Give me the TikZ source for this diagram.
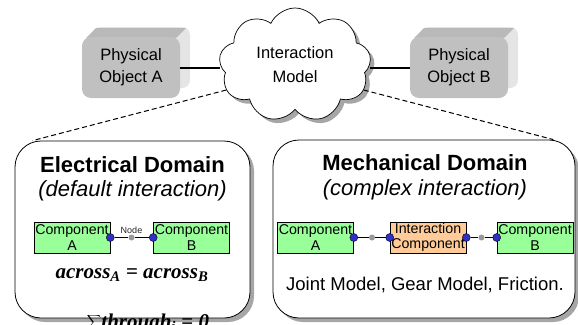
\documentclass[tikz,border=0pt]{standalone}
\usepackage{fontspec}
\setmainfont{Liberation Sans}
\newfontfamily\eqfont{Liberation Serif}
\usetikzlibrary{positioning,shapes.symbols,shadows}
\definecolor{compgreen}{HTML}{99FF99}
\definecolor{comporange}{HTML}{FFCC99}
\definecolor{portblue}{HTML}{3030C8}
\definecolor{objgray}{HTML}{C0C0C0}

\begin{document}
\begin{tikzpicture}[x=1pt,y=-1pt,
    boxshadow/.style={drop shadow={shadow xshift=4pt,shadow yshift=-4pt,fill=gray!70,opacity=1}},
    domainbox/.style={draw,line width=0.8pt,rounded corners=26pt,fill=white,boxshadow},
    comp/.style={draw,line width=0.6pt,fill=compgreen,minimum width=76pt,minimum height=31pt,
      inner sep=0pt,align=center,font=\fontsize{14.2}{15.5}\selectfont},
    port/.style={circle,draw=black,fill=portblue,line width=0.4pt,minimum size=8pt,inner sep=0pt},
    junc/.style={circle,fill=gray!80,minimum size=6pt,inner sep=0pt},
    physobj/.style={rounded corners=9pt,fill=objgray,minimum width=98pt,minimum height=61pt,
      align=center,font=\fontsize{16.5}{22}\selectfont},
    domtitle/.style={font=\fontsize{22}{26}\selectfont\bfseries},
    domsub/.style={font=\fontsize{22}{26}\selectfont\itshape},
    eqtext/.style={font=\fontsize{21}{21}\selectfont\eqfont\bfseries\itshape}]
    \useasboundingbox (0,0) rectangle (578,324);

    \fill[gray!20,rounded corners=8pt] (92,27) rectangle (190,88);
    \fill[gray!55] (86,38) -- (96,28) -- (186,28) -- (176,38) -- cycle;
    \node[physobj] (objA) at (131,67.5) {Physical\\Object A};
    \fill[gray!20,rounded corners=8pt] (420,27) rectangle (518,88);
    \fill[gray!55] (414,38) -- (424,28) -- (514,28) -- (504,38) -- cycle;
    \node[physobj] (objB) at (459,67.5) {Physical\\Object B};

    \node[cloud,cloud puffs=9,cloud puff arc=130,cloud ignores aspect,draw,line width=0.7pt,
      fill=white,minimum width=152pt,minimum height=114pt,align=center,
      font=\fontsize{16.5}{24}\selectfont,boxshadow] (cloud) at (295,65) {Interaction\\Model};
    \draw[line width=2pt] (objA.east) -- (objA.east -| cloud.west);
    \draw[line width=2pt] (objB.west) -- (objB.west -| cloud.east);

    \node[domainbox,minimum width=235pt,minimum height=177pt] (elec) at (132.5,229.5) {};
    \node[domainbox,minimum width=302pt,minimum height=178pt] (mech) at (424,229) {};
    \draw[dash pattern=on 5pt off 3pt,line width=1pt] (cloud.200) -- ([xshift=18pt]elec.north west);
    \draw[dash pattern=on 5pt off 3pt,line width=1pt] (cloud.340) -- ([xshift=-22pt]mech.north east);

    \node[domtitle] (elecT) at (132.5,165) {Electrical Domain};
    \node[domsub] (elecS) at (132.5,191) {(default interaction)};
    \node[comp] (cA) at (72,237.5) {Component\\A};
    \node[comp] (cB) at (191.5,237.5) {Component\\B};
    \node[port] (pA) at (cA.east) {};
    \node[port] (pB) at (cB.west) {};
    \node[junc,label={[font=\fontsize{9}{9}\selectfont,text=gray!30!black,inner sep=1pt]above:Node}] (nd) at (131.5,237.5) {};
    \draw[line width=0.6pt] (pA) -- (nd) -- (pB);
    \node[eqtext] (eqA) at (132,275) {across\textsubscript{A} {\upshape =} across\textsubscript{B}};
    \node[eqtext,anchor=base] (eqS) at (148,328) {$\displaystyle\sum$through\textsubscript{i} {\upshape =} 0};

    \node[domtitle] (mechT) at (425,163) {Mechanical Domain};
    \node[domsub] (mechS) at (425,190) {(complex interaction)};
    \node[comp] (mA) at (315.5,237.5) {Component\\A};
    \node[comp,fill=comporange] (mI) at (428,237.5) {Interaction\\Component};
    \node[comp] (mB) at (535,237.5) {Component\\B};
    \node[port] (qA) at (mA.east) {};
    \node[port] (qI1) at (mI.west) {};
    \node[port] (qI2) at (mI.east) {};
    \node[port] (qB) at (mB.west) {};
    \node[junc] (nd1) at (372,237.5) {};
    \node[junc] (nd2) at (481.5,237.5) {};
    \draw[line width=0.6pt] (qA) -- (nd1) -- (qI1);
    \draw[line width=0.6pt] (qI2) -- (nd2) -- (qB);
    \node[font=\fontsize{18.5}{20}\selectfont] (joint) at (425,285) {Joint Model, Gear Model, Friction.};
\end{tikzpicture}
\end{document}
